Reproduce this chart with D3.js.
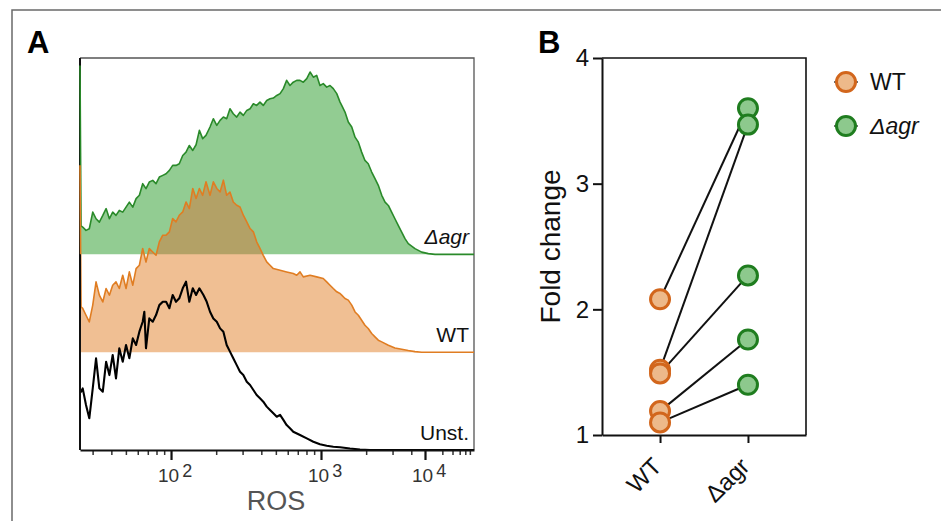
<!DOCTYPE html>
<html><head><meta charset="utf-8">
<script src="https://cdn.jsdelivr.net/npm/d3@7"></script>
<style>
body{margin:0;background:#fff}
svg{display:block}
text{font-family:"Liberation Sans",Arial,Helvetica,sans-serif}
</style>
</head><body>
<svg id="c" width="941" height="521"></svg>
<script>
// ---------- Panel A data: histograms [log10(ROS), relative count] ----------
const agrHist = [[1.393,102.4],[1.400,15.5],[1.411,14.8],[1.433,13.0],[1.455,13.9],[1.478,22.9],[1.500,19.3],[1.522,17.5],[1.545,21.1],[1.567,24.8],[1.589,19.3],[1.611,22.9],[1.633,21.1],[1.655,23.8],[1.678,22.9],[1.700,25.6],[1.722,28.3],[1.745,25.6],[1.767,30.2],[1.789,32.0],[1.811,38.3],[1.833,35.6],[1.855,39.2],[1.878,40.1],[1.900,38.3],[1.922,41.9],[1.945,42.8],[1.967,43.7],[1.989,45.5],[2.011,48.2],[2.033,48.2],[2.055,49.1],[2.078,53.6],[2.100,55.4],[2.122,59.0],[2.145,56.3],[2.167,59.4],[2.189,67.2],[2.211,62.7],[2.233,64.5],[2.260,69.0],[2.282,73.5],[2.305,69.9],[2.327,72.6],[2.349,74.4],[2.371,73.5],[2.393,78.9],[2.415,76.2],[2.438,74.4],[2.460,77.1],[2.482,75.3],[2.505,78.0],[2.527,78.9],[2.549,81.6],[2.571,80.7],[2.593,82.5],[2.615,80.7],[2.638,83.4],[2.660,84.3],[2.682,84.7],[2.705,86.1],[2.727,87.1],[2.749,89.8],[2.771,94.3],[2.793,91.5],[2.815,93.3],[2.838,94.3],[2.860,94.3],[2.882,93.3],[2.905,95.2],[2.927,98.8],[2.949,96.0],[2.971,97.0],[2.993,91.5],[3.015,92.5],[3.038,90.6],[3.060,91.5],[3.082,89.8],[3.105,87.1],[3.127,82.5],[3.138,80.7],[3.160,77.1],[3.182,71.7],[3.205,69.0],[3.227,63.5],[3.249,60.8],[3.271,55.4],[3.293,50.9],[3.315,49.1],[3.338,44.6],[3.360,41.0],[3.382,37.4],[3.405,32.0],[3.427,28.3],[3.449,26.5],[3.471,22.9],[3.493,19.3],[3.515,15.7],[3.538,12.1],[3.560,8.5],[3.582,5.8],[3.709,3.1],[3.904,1.2],[4.057,0.4],[4.174,0],[4.85,0]];

const wtHist = [[1.393,101.3],[1.400,24.5],[1.411,23.7],[1.433,20.0],[1.455,16.4],[1.478,25.5],[1.500,38.1],[1.522,30.9],[1.545,27.2],[1.567,34.5],[1.589,30.9],[1.611,36.3],[1.633,38.1],[1.655,34.5],[1.678,41.7],[1.700,34.5],[1.722,43.5],[1.745,36.3],[1.767,45.3],[1.789,47.1],[1.811,56.2],[1.833,48.9],[1.855,56.2],[1.878,54.3],[1.900,52.5],[1.922,59.8],[1.945,63.4],[1.967,63.4],[1.989,65.2],[2.011,72.4],[2.033,70.6],[2.055,74.2],[2.078,76.0],[2.100,81.4],[2.122,77.8],[2.145,88.7],[2.167,83.3],[2.189,88.7],[2.211,85.0],[2.233,92.3],[2.260,85.0],[2.282,92.3],[2.305,88.7],[2.327,86.8],[2.349,93.2],[2.371,85.0],[2.393,86.8],[2.415,81.4],[2.438,79.6],[2.460,78.7],[2.482,74.2],[2.505,70.6],[2.527,67.0],[2.549,65.2],[2.571,59.8],[2.593,56.2],[2.615,52.5],[2.638,48.9],[2.660,47.1],[2.682,45.3],[2.727,44.4],[2.771,43.5],[2.815,42.6],[2.838,41.7],[2.860,43.5],[2.882,40.8],[2.927,41.7],[2.971,40.8],[3.015,39.9],[3.038,38.1],[3.060,36.3],[3.082,34.5],[3.105,32.7],[3.127,31.8],[3.138,30.9],[3.160,29.1],[3.182,28.2],[3.205,25.5],[3.227,21.8],[3.249,20.0],[3.271,17.3],[3.293,14.6],[3.315,12.8],[3.338,10.1],[3.360,8.3],[3.382,6.5],[3.405,5.6],[3.449,3.8],[3.493,2.3],[3.538,1.6],[3.582,0.9],[3.709,0.3],[3.904,0],[4.85,0]];

const unstHist = [[1.393,31.6],[1.400,31.6],[1.411,33.4],[1.433,24.4],[1.455,17.2],[1.478,33.4],[1.500,49.7],[1.522,33.4],[1.545,31.6],[1.567,47.8],[1.589,40.6],[1.611,51.5],[1.633,38.8],[1.655,55.1],[1.678,47.8],[1.700,56.9],[1.722,49.7],[1.745,60.5],[1.767,56.9],[1.789,64.1],[1.811,69.5],[1.822,74.9],[1.833,55.1],[1.855,71.3],[1.878,69.5],[1.900,73.1],[1.922,78.5],[1.945,80.3],[1.967,80.3],[1.989,76.8],[2.011,84.0],[2.033,80.3],[2.055,82.2],[2.078,87.6],[2.100,91.2],[2.122,80.3],[2.145,87.6],[2.167,84.0],[2.189,87.6],[2.216,84.0],[2.238,80.3],[2.260,74.9],[2.282,71.3],[2.305,69.5],[2.327,65.9],[2.349,64.1],[2.371,56.9],[2.393,53.3],[2.415,49.7],[2.438,46.0],[2.460,42.4],[2.482,40.6],[2.505,37.0],[2.527,35.2],[2.549,32.5],[2.571,29.8],[2.593,28.0],[2.615,26.2],[2.638,23.5],[2.660,21.7],[2.682,19.9],[2.705,18.0],[2.727,19.0],[2.749,16.3],[2.771,13.5],[2.793,11.8],[2.815,9.9],[2.860,8.1],[2.905,6.3],[2.949,4.5],[2.993,3.1],[3.038,2.3],[3.082,1.8],[3.127,1.5],[3.193,0.8],[3.260,0.3],[3.327,0],[4.85,0]];

const seriesNames = ["Unst.", "WT", "Δagr"];
const seriesOffsets = [0, 53, 106];     // vertical stacking offsets (count units)
const majorTicks = [2, 3, 4];           // log10 values labelled 10^2, 10^3, 10^4
const minorTicks = [30,40,50,60,70,80,90,200,300,400,500,600,700,800,900,2000,3000,4000,20000,30000,40000,50000,60000].map(Math.log10);

// ---------- Panel B data ----------
const groups = ["WT", "Δagr"];
const wtFold = [2.08, 1.52, 1.49, 1.19, 1.10];
const agrFold = [3.60, 3.47, 2.27, 1.76, 1.40];
const foldTicks = [1, 2, 3, 4];

// ---------- styles ----------
const C = {
  agrLine: "#2a8a2a", agrFill: "#92cc92",
  wtLine: "#e07d22", wtFill: "#f0bf93", overlap: "#b3a166",
  wtDot: "#edb98a", wtDotStroke: "#d2661c",
  agrDot: "#8dc98d", agrDotStroke: "#1f7d1f"
};

const svg = d3.select("#c");
svg.append("rect").attr("width", 941).attr("height", 521).attr("fill", "#fff");

// figure frame
svg.append("path").attr("d", "M12,521V10H941").attr("fill", "none").attr("stroke", "#6a6a6a").attr("stroke-width", 1.5);

// panel letters
svg.append("text").attr("x", 27).attr("y", 53).attr("font-size", 31).attr("font-weight", "bold").text("A");
svg.append("text").attr("x", 538).attr("y", 53).attr("font-size", 31).attr("font-weight", "bold").text("B");

// ================= Panel A =================
const xA = d3.scaleLinear().domain([1.393, 3.6021, 4, 4.85]).range([80, 411.3, 425, 474]);
const yA = d3.scaleLinear().domain([0, 212.4]).range([450, 58]);

// clip region above the green baseline (where the WT fill overlaps the Δagr fill)
svg.append("defs").append("clipPath").attr("id", "overlapClip")
  .append("rect").attr("x", 80).attr("y", yA(212.4)).attr("width", 394)
  .attr("height", yA(seriesOffsets[2]) - yA(212.4));

// plot box (top and right)
svg.append("path").attr("d", `M80,${yA(212.4)}H${xA(4.85)}V${yA(0)}`)
  .attr("fill", "none").attr("stroke", "#555").attr("stroke-width", 1.3);
// left axis line (under curves)
svg.append("line").attr("x1", 80).attr("x2", 80).attr("y1", yA(212.4)).attr("y2", yA(0))
  .attr("stroke", "#111").attr("stroke-width", 2);

function histArea(off) { return d3.area().x(d => xA(d[0])).y0(yA(off)).y1(d => yA(off + d[1])); }
function histLine(off) { return d3.line().x(d => xA(d[0])).y(d => yA(off + d[1])); }

// Δagr
svg.append("path").datum(agrHist).attr("d", histArea(seriesOffsets[2])).attr("fill", C.agrFill);
svg.append("path").datum(agrHist).attr("d", histLine(seriesOffsets[2])).attr("fill", "none")
  .attr("stroke", C.agrLine).attr("stroke-width", 1.6).attr("stroke-linejoin", "round");
// WT
svg.append("path").datum(wtHist).attr("d", histArea(seriesOffsets[1])).attr("fill", C.wtFill);
svg.append("path").datum(wtHist).attr("d", histArea(seriesOffsets[1])).attr("fill", C.overlap)
  .attr("clip-path", "url(#overlapClip)");
svg.append("path").datum(wtHist).attr("d", histLine(seriesOffsets[1])).attr("fill", "none")
  .attr("stroke", C.wtLine).attr("stroke-width", 1.6).attr("stroke-linejoin", "round");
// Unstained
svg.append("path").datum(unstHist).attr("d", histLine(seriesOffsets[0])).attr("fill", "none")
  .attr("stroke", "#000").attr("stroke-width", 2.1).attr("stroke-linejoin", "round");

// left axis lower part over the curves
svg.append("line").attr("x1", 80).attr("x2", 80).attr("y1", yA(seriesOffsets[2])).attr("y2", yA(0))
  .attr("stroke", "#111").attr("stroke-width", 2);

// series labels
seriesNames.forEach((s, i) => {
  svg.append("text").attr("x", 469).attr("y", yA(seriesOffsets[i]) - 10)
    .attr("text-anchor", "end").attr("font-size", 21).attr("fill", "#111")
    .attr("font-style", s.startsWith("Δ") ? "italic" : "normal").text(s);
});

// x axis
const gMinor = svg.append("g").attr("transform", `translate(0,${yA(0)})`)
  .call(d3.axisBottom(xA).tickValues(minorTicks).tickSize(5).tickSizeOuter(0).tickFormat(""));
gMinor.select(".domain").remove();
gMinor.selectAll(".tick line").attr("stroke", "#333").attr("stroke-width", 1.5);
const gMajor = svg.append("g").attr("transform", `translate(0,${yA(0)})`)
  .call(d3.axisBottom(xA).tickValues(majorTicks).tickSize(10).tickSizeOuter(0).tickFormat(""));
gMajor.select(".domain").attr("stroke", "#111").attr("stroke-width", 2);
gMajor.selectAll(".tick line").attr("stroke", "#111").attr("stroke-width", 2.2);

majorTicks.forEach(v => {
  const t = svg.append("text").attr("x", xA(v) - 13).attr("y", 482).attr("font-size", 19).attr("fill", "#333");
  t.append("tspan").text("10");
  t.append("tspan").attr("dx", 3).attr("dy", -5).attr("font-size", 18).text(String(v));
});
svg.append("text").attr("x", 276).attr("y", 510).attr("text-anchor", "middle")
  .attr("font-size", 27).attr("fill", "#555").text("ROS");

// ================= Panel B =================
const xB = d3.scalePoint().domain(groups).range([602, 806]).padding(0.66);
const yB = d3.scaleLinear().domain([1, 4]).range([435, 58]);

svg.append("path").attr("d", `M602,${yB(4)}H806V${yB(1)}`).attr("fill", "none")
  .attr("stroke", "#111").attr("stroke-width", 1.6);

const gy = svg.append("g").attr("transform", "translate(602,0)")
  .call(d3.axisLeft(yB).tickValues(foldTicks).tickSize(9).tickSizeOuter(0).tickPadding(4).tickFormat(d3.format("d")));
gy.select(".domain").attr("stroke", "#111").attr("stroke-width", 2);
gy.selectAll(".tick line").attr("stroke", "#111").attr("stroke-width", 2);
gy.selectAll(".tick text").attr("font-size", 24).attr("fill", "#111")
  .attr("font-family", '"Liberation Sans",Arial,sans-serif');

const gx = svg.append("g").attr("transform", `translate(0,${yB(1)})`)
  .call(d3.axisBottom(xB).tickSize(8).tickSizeOuter(0).tickFormat(""));
gx.select(".domain").attr("stroke", "#111").attr("stroke-width", 2);
gx.selectAll(".tick line").attr("stroke", "#111").attr("stroke-width", 2);

groups.forEach(g => {
  svg.append("text").attr("transform", `translate(${xB(g) + 3},468) rotate(-45)`)
    .attr("text-anchor", "end").attr("font-size", 24).attr("fill", "#111").text(g);
});

svg.append("text").attr("transform", `translate(560,${(yB(1) + yB(4)) / 2}) rotate(-90)`)
  .attr("text-anchor", "middle").attr("font-size", 28).attr("fill", "#111").text("Fold change");

// paired lines
wtFold.forEach((v, i) => {
  svg.append("line").attr("x1", xB("WT")).attr("y1", yB(v))
    .attr("x2", xB("Δagr")).attr("y2", yB(agrFold[i]))
    .attr("stroke", "#111").attr("stroke-width", 2);
});

// points (higher values drawn first so lower ones sit on top)
const pts = [];
wtFold.forEach(v => pts.push({g: "WT", v}));
agrFold.forEach(v => pts.push({g: "Δagr", v}));
pts.sort((a, b) => b.v - a.v);
svg.selectAll("circle.pt").data(pts).join("circle").attr("class", "pt")
  .attr("cx", d => xB(d.g)).attr("cy", d => yB(d.v)).attr("r", 9.5)
  .attr("fill", d => d.g === "WT" ? C.wtDot : C.agrDot)
  .attr("stroke", d => d.g === "WT" ? C.wtDotStroke : C.agrDotStroke)
  .attr("stroke-width", 3);

// legend
groups.forEach((g, i) => {
  const y = 82 + i * 44;
  svg.append("line").attr("x1", 834).attr("x2", 858).attr("y1", y).attr("y2", y)
    .attr("stroke", "#111").attr("stroke-width", 1.2);
  svg.append("circle").attr("cx", 846).attr("cy", y).attr("r", 9.5)
    .attr("fill", g === "WT" ? C.wtDot : C.agrDot)
    .attr("stroke", g === "WT" ? C.wtDotStroke : C.agrDotStroke).attr("stroke-width", 3);
  svg.append("text").attr("x", 870).attr("y", y + 8).attr("font-size", 23).attr("fill", "#111")
    .attr("font-style", g === "WT" ? "normal" : "italic").text(g);
});
</script>
</body></html>
